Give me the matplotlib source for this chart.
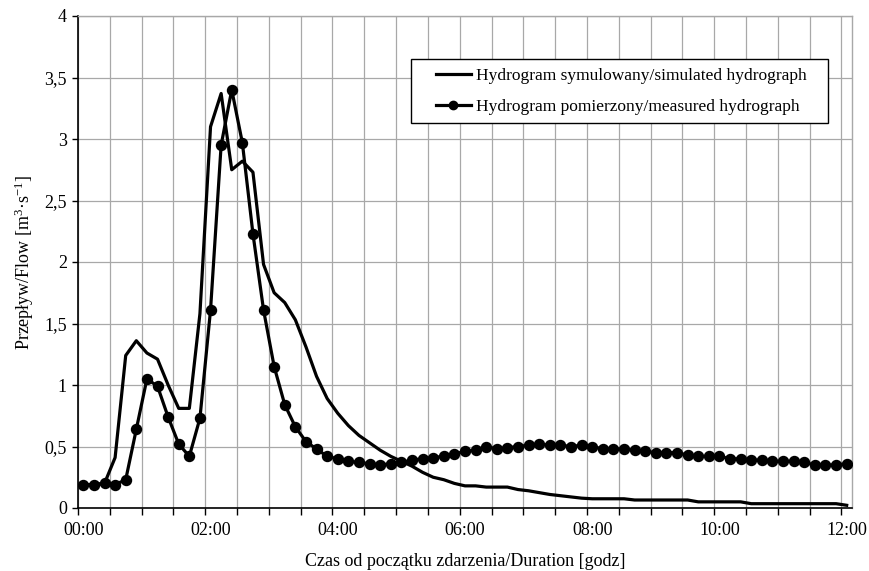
import matplotlib
matplotlib.use("Agg")
import matplotlib.pyplot as plt
from matplotlib.patches import Rectangle

# time step index (10-minute steps), minutes since event start
minutes = [10 * k for k in range(73)]

measured = [0.19, 0.19, 0.20, 0.19, 0.23, 0.64, 1.05, 0.99, 0.74, 0.52, 0.42, 0.73,
            1.61, 2.95, 3.40, 2.97, 2.23, 1.61, 1.15, 0.84, 0.66, 0.54, 0.48, 0.42,
            0.40, 0.38, 0.37, 0.36, 0.35, 0.36, 0.37, 0.39, 0.40, 0.41, 0.42, 0.44,
            0.46, 0.47, 0.50, 0.48, 0.49, 0.50, 0.51, 0.52, 0.51, 0.51, 0.50, 0.51,
            0.50, 0.48, 0.48, 0.48, 0.47, 0.46, 0.45, 0.45, 0.45, 0.43, 0.42, 0.42,
            0.42, 0.40, 0.40, 0.39, 0.39, 0.38, 0.38, 0.38, 0.37, 0.35, 0.35, 0.35,
            0.36]

simulated = [0.19, 0.19, 0.20, 0.41, 1.24, 1.36, 1.26, 1.21, 1.00, 0.81, 0.81, 1.58,
             3.10, 3.37, 2.75, 2.82, 2.73, 1.98, 1.75, 1.67, 1.53, 1.31, 1.07, 0.89,
             0.77, 0.67, 0.59, 0.53, 0.47, 0.42, 0.38, 0.34, 0.29, 0.25, 0.23, 0.20,
             0.18, 0.18, 0.17, 0.17, 0.17, 0.15, 0.14, 0.125, 0.11, 0.10, 0.09, 0.08,
             0.075, 0.075, 0.075, 0.075, 0.065, 0.065, 0.065, 0.065, 0.065, 0.065,
             0.05, 0.05, 0.05, 0.05, 0.05, 0.035, 0.035, 0.035, 0.035, 0.035, 0.035,
             0.035, 0.035, 0.035, 0.022]

x_tick_labels = ["00:00", "02:00", "04:00", "06:00", "08:00", "10:00", "12:00"]
y_ticks = [0, 0.5, 1, 1.5, 2, 2.5, 3, 3.5, 4]
y_tick_labels = ["0", "0,5", "1", "1,5", "2", "2,5", "3", "3,5", "4"]

label_sim = "Hydrogram symulowany/simulated hydrograph"
label_meas = "Hydrogram pomierzony/measured hydrograph"

plt.rcParams["font.family"] = ["Liberation Serif", "DejaVu Serif"]
plt.rcParams["mathtext.fontset"] = "custom"
plt.rcParams["mathtext.rm"] = "Liberation Serif"
plt.rcParams["mathtext.it"] = "Liberation Serif:italic"

W, H = 870, 571
fig = plt.figure(figsize=(8.7, 5.71), dpi=100)
ax = fig.add_axes([78 / W, 63 / H, 774 / W, 492 / H])

ax.plot(minutes, simulated, color="black", lw=2.3, label=label_sim, zorder=3)
ax.plot(minutes, measured, color="black", lw=2.3, marker="o", markersize=7.2,
        label=label_meas, zorder=4)

ax.set_xlim(-5, 725)
ax.set_ylim(0, 4)

# category boundaries every 30 min
major = [-5 + 30 * j for j in range(25)]
ax.set_xticks(major)
ax.set_xticklabels([])
ax.set_xticks([120 * i for i in range(7)], minor=True)
ax.set_xticklabels(x_tick_labels, minor=True)
ax.tick_params(axis="x", which="major", direction="out", length=5, width=1, color="black")
ax.tick_params(axis="x", which="minor", length=0, pad=10, labelsize=13)

ax.set_yticks(y_ticks)
ax.set_yticklabels(y_tick_labels)
ax.tick_params(axis="y", direction="out", length=4, width=1, labelsize=13, pad=4)

ax.grid(True, which="major", color="#a8a8a8", lw=0.9)
ax.set_axisbelow(True)

for s in ["top", "right"]:
    ax.spines[s].set_color("#a8a8a8")
    ax.spines[s].set_linewidth(1)
for s in ["left", "bottom"]:
    ax.spines[s].set_color("black")
    ax.spines[s].set_linewidth(1.2)

ax.set_xlabel("Czas od początku zdarzenia/Duration [godz]", fontsize=13, labelpad=10)
ax.set_ylabel(r"Przepływ/Flow [m$^{3}$·s$^{-1}$]", fontsize=13, labelpad=6)

# legend frame drawn separately so paddings can match
fig.patches.append(Rectangle((411 / W, (H - 123) / H), 417 / W, 64 / H,
                             transform=fig.transFigure, facecolor="white",
                             edgecolor="black", lw=1.0, zorder=5))
leg = fig.legend(*ax.get_legend_handles_labels(), loc="center left",
                 bbox_to_anchor=(436 / W, (H - 91.5) / H),
                 fontsize=12.5, frameon=False,
                 handlelength=2.0, handletextpad=0.3, borderpad=0,
                 labelspacing=0.9, borderaxespad=0)
leg.set_zorder(6)
for h in leg.legend_handles:
    h.set_linewidth(2.3)
    if h.get_marker() not in (None, "None", ""):
        h.set_markersize(6)

fig.savefig("out.png", dpi=100)
